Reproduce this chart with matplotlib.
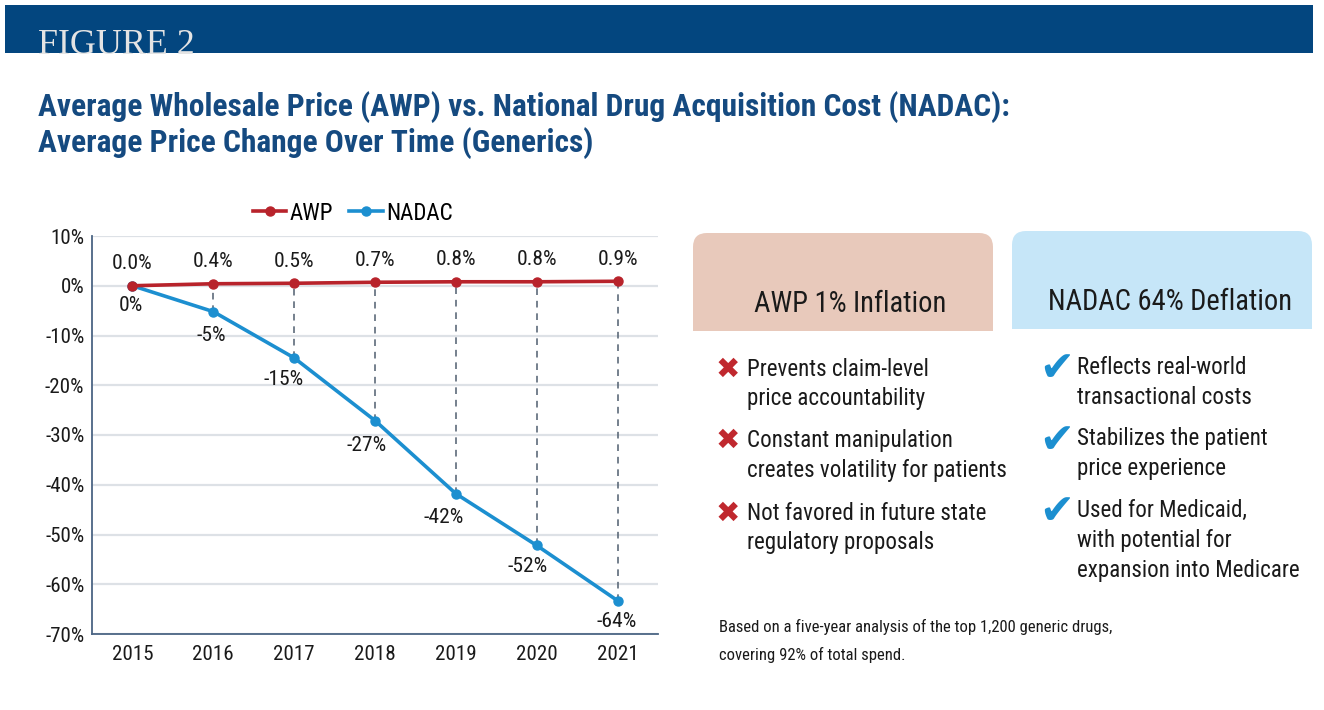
import os
import matplotlib
matplotlib.use("Agg")
import matplotlib.pyplot as plt
from matplotlib import font_manager as fm
from matplotlib.font_manager import FontProperties
from matplotlib.patches import Rectangle, FancyBboxPatch

# ---------------- data ----------------
years = ["2015", "2016", "2017", "2018", "2019", "2020", "2021"]
awp = [0.0, 0.4, 0.5, 0.7, 0.8, 0.8, 0.9]
awp_labels = ["0.0%", "0.4%", "0.5%", "0.7%", "0.8%", "0.8%", "0.9%"]
nadac = [0.0, -5.2, -14.5, -27.1, -41.8, -52.2, -63.3]
nadac_labels = ["0%", "-5%", "-15%", "-27%", "-42%", "-52%", "-64%"]
y_ticks = [10, 0, -10, -20, -30, -40, -50, -60, -70]
y_tick_labels = ["10%", "0%", "-10%", "-20%", "-30%", "-40%", "-50%", "-60%", "-70%"]

header_text = "FIGURE 2"
title_lines = ["Average Wholesale Price (AWP) vs. National Drug Acquisition Cost (NADAC):",
               "Average Price Change Over Time (Generics)"]
awp_box_title = "AWP 1% Inflation"
nadac_box_title = "NADAC 64% Deflation"
awp_points = [["Prevents claim-level", "price accountability"],
              ["Constant manipulation", "creates volatility for patients"],
              ["Not favored in future state", "regulatory proposals"]]
nadac_points = [["Reflects real-world", "transactional costs"],
                ["Stabilizes the patient", "price experience"],
                ["Used for Medicaid,", "with potential for", "expansion into Medicare"]]
footnote = ["Based on a five-year analysis of the top 1,200 generic drugs,",
            "covering 92% of total spend."]

# ---------------- fonts ----------------
def find_condensed(bold):
    prefs = ["roboto condensed", "liberation sans narrow", "open sans condensed",
             "noto sans condensed", "dejavu sans condensed", "arial narrow"]
    best = None
    best_score = None
    for f in fm.fontManager.ttflist:
        n = f.name.lower()
        p = os.path.basename(f.fname).lower()
        cond = ("condensed" in n or "narrow" in n or "condensed" in p or "narrow" in p
                or f.stretch in ("condensed", "semi-condensed"))
        if not cond:
            continue
        if f.style != "normal" or "italic" in p or "oblique" in p:
            continue
        if "extra" in p or "ultra" in p or "semi" in p:
            continue
        w = f.weight if isinstance(f.weight, int) else 400
        target = 700 if bold else 400
        fam_rank = len(prefs)
        for i, pr in enumerate(prefs):
            if pr in n or pr.replace(" ", "") in p.replace("-", "").replace("_", ""):
                fam_rank = i
                break
        score = (abs(w - target), fam_rank)
        if best_score is None or score < best_score:
            best_score = score
            best = f.fname
    return best

reg_path = find_condensed(False)
bold_path = find_condensed(True)
CONDENSED = reg_path is not None
scale = 1.0 if CONDENSED else 0.82


def fp(size_px, bold=False):
    size = size_px * 0.72 * scale
    path = bold_path if bold else reg_path
    if path:
        return FontProperties(fname=path, size=size)
    return FontProperties(family="Liberation Sans", size=size,
                          weight="bold" if bold else "normal")

serif_fp = FontProperties(family=["Liberation Serif", "DejaVu Serif"], size=36 * 0.72)

# ---------------- colours ----------------
NAVY = "#03467f"
TITLE = "#154a80"
RED = "#b8232b"
BLUE = "#1c8fd0"
GRID = "#dde1e6"
SPINE = "#4b6584"
DASH = "#5d6b7a"
TEXT = "#1a1a1a"

W, H = 1324, 710
fig = plt.figure(figsize=(W / 100, H / 100), dpi=100)
fig.patch.set_facecolor("white")

# overlay axes in pixel coordinates
ov = fig.add_axes([0, 0, 1, 1])
ov.set_xlim(0, W)
ov.set_ylim(H, 0)
ov.axis("off")

ov.add_patch(Rectangle((5, 5), 1308, 48, color=NAVY, lw=0))
ov.text(38, 54, header_text, fontproperties=serif_fp, color="#e4e4e4",
        va="baseline", ha="left")
for i, line in enumerate(title_lines):
    ov.text(38, 116 + 36 * i, line, fontproperties=fp(31.5, True), color=TITLE,
            va="baseline", ha="left")

# header boxes with rounded top corners
def top_rounded_box(x0, y0, x1, y1, color):
    ov.add_patch(FancyBboxPatch((x0, y0), x1 - x0, y1 - y0,
                                boxstyle="round,pad=0,rounding_size=14",
                                fc=color, ec="none"))
    ov.add_patch(Rectangle((x0, y0 + 30), x1 - x0, y1 - y0 - 30, fc=color, ec="none"))

top_rounded_box(693, 233, 993, 331, "#e8c9bb")
top_rounded_box(1012, 231, 1312, 329, "#c6e6f8")
ov.text(850, 304, awp_box_title, fontproperties=fp(28.5), color=TEXT, ha="center", va="center")
ov.text(1170, 302, nadac_box_title, fontproperties=fp(28.5), color=TEXT, ha="center", va="center")

sym_fp_x = FontProperties(family="DejaVu Sans", size=21, weight="bold")
sym_fp_c = FontProperties(family="DejaVu Sans", size=30)
awp_starts = [369, 440, 513]
for start, lines in zip(awp_starts, awp_points):
    ov.text(728, start + 1, "\u2716", fontproperties=sym_fp_x, color="#c0282e",
            ha="center", va="center")
    for j, line in enumerate(lines):
        ov.text(747, start + 30 * j, line, fontproperties=fp(23), color=TEXT,
                ha="left", va="center")
nadac_starts = [367, 439, 510]
for start, lines in zip(nadac_starts, nadac_points):
    ov.text(1057, start + 2, "\u2714", fontproperties=sym_fp_c, color=BLUE,
            ha="center", va="center")
    for j, line in enumerate(lines):
        ov.text(1077, start + 30 * j, line, fontproperties=fp(23), color=TEXT,
                ha="left", va="center")
for j, line in enumerate(footnote):
    ov.text(719, 627 + 28 * j, line, fontproperties=fp(16.6), color=TEXT,
            ha="left", va="center")

# ---------------- chart ----------------
ax = fig.add_axes([92 / W, 1 - 634 / H, (658 - 92) / W, (634 - 236) / H])
ax.set_facecolor("none")
x = list(range(len(years)))
ax.set_xlim(-0.5, len(years) - 0.5)
ax.set_ylim(-70, 10)
ax.set_yticks(y_ticks)
ax.set_yticklabels(y_tick_labels, fontproperties=fp(21))
ax.set_xticks(x)
ax.set_xticklabels(years, fontproperties=fp(21))
ax.tick_params(length=0, colors=TEXT)
ax.tick_params(axis="y", pad=5.5)
ax.tick_params(axis="x", pad=8)
ax.grid(axis="y", color=GRID, lw=1.6)
ax.set_axisbelow(True)
for s in ["top", "right"]:
    ax.spines[s].set_visible(False)
for s in ["left", "bottom"]:
    ax.spines[s].set_color(SPINE)
    ax.spines[s].set_linewidth(1.3)

ax.vlines(x[1:], nadac[1:], awp[1:], colors=DASH, linestyles=(0, (4, 3.5)), lw=1.2, zorder=2)
ax.plot(x, nadac, color=BLUE, lw=2.6, marker="o", ms=6.5, label="NADAC", zorder=3)
ax.plot(x, awp, color=RED, lw=2.6, marker="o", ms=6.5, label="AWP", zorder=4)

for xi, v, lab in zip(x, awp, awp_labels):
    ax.annotate(lab, (xi, v), xytext=(0, 22), textcoords="offset pixels",
                ha="center", va="center", fontproperties=fp(21.5), color=TEXT)
nadac_dx = [-1, -2, -11, -8, -12, -9, -1]
nadac_dy = [-20, -24, -22, -25, -24, -21, -21]
for xi, v, lab, dx, dy in zip(x, nadac, nadac_labels, nadac_dx, nadac_dy):
    ax.annotate(lab, (xi, v), xytext=(dx, dy), textcoords="offset pixels",
                ha="center", va="center", fontproperties=fp(21.5), color=TEXT)

handles, labels = ax.get_legend_handles_labels()
leg = ax.legend(handles[::-1], labels[::-1], loc="center",
                bbox_to_anchor=((353 - 92) / (658 - 92), (634 - 213) / (634 - 236)),
                frameon=False, ncol=2, prop=fp(23), handlelength=1.45,
                handletextpad=0.15, columnspacing=0.7, borderpad=0, borderaxespad=0)

fig.savefig("out.png", dpi=100, facecolor="white")
